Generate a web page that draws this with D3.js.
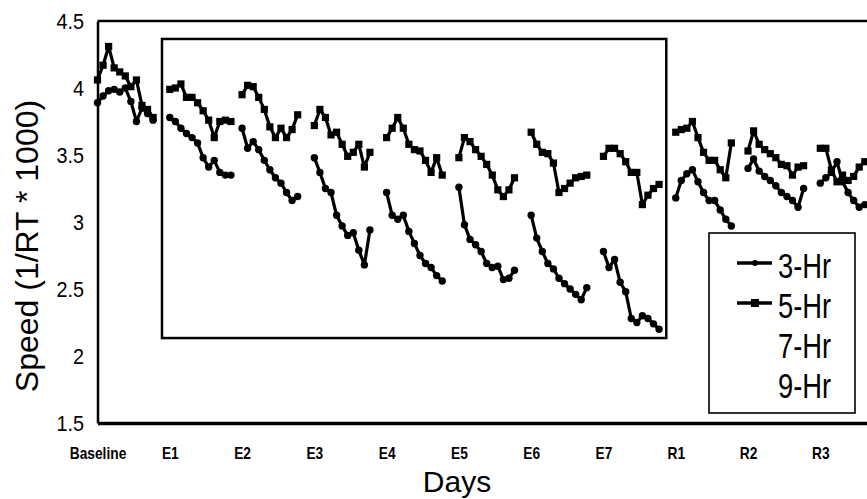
<!DOCTYPE html>
<html>
<head>
<meta charset="utf-8">
<script src="https://cdn.jsdelivr.net/npm/d3@7"></script>
<style>
body { margin: 0; background: #fff; }
text { font-family: "Liberation Sans", Arial, sans-serif; fill: #000; }
</style>
</head>
<body>
<div id="chart"></div>
<script>
var days = ["Baseline", "E1", "E2", "E3", "E4", "E5", "E6", "E7", "R1", "R2", "R3"];

// one list of test sessions per day
var hr3 = [
    [3.89, 3.94, 3.98, 3.99, 3.97, 4.00, 3.90, 3.75, 3.85, 3.81, 3.76],
    [3.78, 3.75, 3.70, 3.66, 3.63, 3.59, 3.48, 3.41, 3.46, 3.37, 3.35, 3.35],
    [3.70, 3.55, 3.60, 3.54, 3.46, 3.39, 3.33, 3.29, 3.22, 3.16, 3.19],
    [3.48, 3.37, 3.25, 3.22, 3.05, 2.97, 2.90, 2.92, 2.79, 2.68, 2.94],
    [3.22, 3.05, 3.02, 3.05, 2.93, 2.84, 2.75, 2.69, 2.66, 2.60, 2.56],
    [3.26, 2.98, 2.87, 2.83, 2.78, 2.69, 2.66, 2.67, 2.57, 2.58, 2.64],
    [3.05, 2.88, 2.78, 2.69, 2.65, 2.58, 2.54, 2.50, 2.46, 2.42, 2.51],
    [2.78, 2.66, 2.72, 2.55, 2.48, 2.28, 2.25, 2.30, 2.28, 2.24, 2.20],
    [3.18, 3.31, 3.36, 3.39, 3.30, 3.22, 3.16, 3.16, 3.09, 3.02, 2.97],
    [3.40, 3.47, 3.38, 3.34, 3.31, 3.27, 3.22, 3.19, 3.16, 3.11, 3.25],
    [3.29, 3.33, 3.37, 3.45, 3.30, 3.22, 3.16, 3.11, 3.13]
];

var hr5 = [
    [4.06, 4.17, 4.31, 4.15, 4.12, 4.09, 4.01, 4.06, 3.87, 3.84, 3.78],
    [3.99, 4.00, 4.03, 3.93, 3.93, 3.89, 3.83, 3.76, 3.63, 3.75, 3.76, 3.75],
    [3.95, 4.02, 4.01, 3.93, 3.84, 3.71, 3.63, 3.70, 3.63, 3.69, 3.80],
    [3.72, 3.84, 3.78, 3.65, 3.67, 3.58, 3.49, 3.52, 3.58, 3.41, 3.52],
    [3.63, 3.70, 3.78, 3.70, 3.58, 3.54, 3.53, 3.46, 3.37, 3.48, 3.35],
    [3.48, 3.63, 3.60, 3.54, 3.49, 3.43, 3.35, 3.24, 3.19, 3.24, 3.33],
    [3.67, 3.58, 3.52, 3.51, 3.44, 3.22, 3.25, 3.29, 3.33, 3.34, 3.35],
    [3.49, 3.55, 3.55, 3.51, 3.45, 3.37, 3.37, 3.13, 3.20, 3.25, 3.28],
    [3.67, 3.69, 3.70, 3.75, 3.63, 3.52, 3.46, 3.46, 3.39, 3.33, 3.59],
    [3.53, 3.68, 3.58, 3.54, 3.51, 3.48, 3.43, 3.42, 3.35, 3.41, 3.42],
    [3.55, 3.55, 3.39, 3.30, 3.35, 3.31, 3.34, 3.41, 3.45]
];

var yTicks = [1.5, 2, 2.5, 3, 3.5, 4, 4.5];
var legendNames = ["3-Hr", "5-Hr", "7-Hr", "9-Hr"];

// inner frame round the restriction days (session index, speed)
var frameX = [11.6, 102.3];
var frameY = [2.134, 4.366];

function base(){
    var w = 867;
    var h = 499;
    var slots = 13;   // test slots per day incl. gap

    var x = d3.scaleLinear()
        .domain([0, days.length * slots])
        .range([97.5, 97.5 + days.length * slots * 5.56]);
    var y = d3.scaleLinear()
        .domain([1.5, 4.5])
        .range([423, 21]);

    var svg = d3.select("#chart")
        .append("svg")
        .attr("width", w)
        .attr("height", h);

    // top edge of plot frame
    svg.append("line")
        .attr("x1", x(0)).attr("x2", w)
        .attr("y1", y(4.5)).attr("y2", y(4.5))
        .attr("stroke", "#000").attr("stroke-width", 2.5);

    // axes
    var yAxis = svg.append("g")
        .attr("transform", "translate(" + x(0) + ",0)")
        .call(d3.axisLeft(y).tickValues(yTicks).tickSize(0).tickSizeOuter(0)
            .tickPadding(15).tickFormat(d3.format("~g")));
    yAxis.select(".domain").attr("stroke-width", 2.5);
    yAxis.selectAll("text")
        .attr("font-size", "22px")
        .attr("transform", "scale(0.9,1)")
        .style("font-family", "'Liberation Sans', Arial, sans-serif");

    var xAxis = svg.append("g")
        .attr("transform", "translate(0," + y(1.5) + ")")
        .call(d3.axisBottom(x)
            .tickValues(days.map(function(d, i){ return i * slots; }))
            .tickFormat(function(d, i){ return days[i]; })
            .tickSize(0).tickSizeOuter(0));
    xAxis.select(".domain").attr("stroke-width", 3.5);
    xAxis.selectAll("text")
        .attr("y", 36).attr("dy", null)
        .attr("font-size", "16px")
        .attr("font-weight", "bold")
        .attr("transform", "scale(0.86,1)")
        .style("font-family", "'Liberation Sans', Arial, sans-serif");

    // inner frame
    svg.append("rect")
        .attr("x", x(frameX[0]))
        .attr("y", y(frameY[1]))
        .attr("width", x(frameX[1]) - x(frameX[0]))
        .attr("height", y(frameY[0]) - y(frameY[1]))
        .attr("fill", "none")
        .attr("stroke", "#000")
        .attr("stroke-width", 2.5);

    var line = d3.line()
        .x(function(d){ return x(d.i); })
        .y(function(d){ return y(d.v); });

    function sessions(series){
        return series.map(function(day, d){
            return day.map(function(v, j){ return {i: d * slots + j, v: v}; });
        });
    }

    var s3 = sessions(hr3);
    var s5 = sessions(hr5);

    [s3, s5].forEach(function(s){
        svg.append("g").selectAll("path")
            .data(s)
            .enter()
            .append("path")
            .attr("d", line)
            .attr("fill", "none")
            .attr("stroke", "#000")
            .attr("stroke-width", 3.2)
            .attr("stroke-linejoin", "round");
    });

    // 3-Hr: round dots
    svg.append("g").selectAll("circle")
        .data(d3.merge(s3))
        .enter()
        .append("circle")
        .attr("cx", function(d){ return x(d.i); })
        .attr("cy", function(d){ return y(d.v); })
        .attr("r", 3.7)
        .attr("fill", "#000");

    // 5-Hr: squares
    svg.append("g").selectAll("rect")
        .data(d3.merge(s5))
        .enter()
        .append("rect")
        .attr("x", function(d){ return x(d.i) - 3.6; })
        .attr("y", function(d){ return y(d.v) - 3.6; })
        .attr("width", 7.2)
        .attr("height", 7.2)
        .attr("fill", "#000");

    // axis titles
    svg.append("text")
        .attr("transform", "translate(38,246) rotate(-90)")
        .attr("text-anchor", "middle")
        .attr("font-size", "32px")
        .text("Speed (1/RT * 1000)");

    svg.append("text")
        .attr("x", 457)
        .attr("y", 492)
        .attr("text-anchor", "middle")
        .attr("font-size", "30px")
        .text("Days");

    // legend
    var lg = svg.append("g").attr("transform", "translate(709,233)");
    lg.append("rect")
        .attr("width", 146).attr("height", 180)
        .attr("fill", "#fff")
        .attr("stroke", "#000").attr("stroke-width", 1.6);

    var items = lg.selectAll("g.item")
        .data(legendNames)
        .enter()
        .append("g")
        .attr("class", "item")
        .attr("transform", function(d, i){ return "translate(0," + (45 + i * 40) + ")"; });

    items.filter(function(d, i){ return i < 2; })
        .append("line")
        .attr("x1", 28).attr("x2", 63)
        .attr("y1", -15).attr("y2", -15)
        .attr("stroke", "#000").attr("stroke-width", 3.5);
    items.filter(function(d, i){ return i === 0; })
        .append("circle")
        .attr("cx", 46).attr("cy", -15).attr("r", 3).attr("fill", "#000");
    items.filter(function(d, i){ return i === 1; })
        .append("rect")
        .attr("x", 42).attr("y", -19).attr("width", 8).attr("height", 8).attr("fill", "#000");

    items.append("text")
        .attr("transform", "translate(69,0) scale(0.76,1)")
        .attr("font-size", "36px")
        .text(function(d){ return d; });
}

window.onload = base;
</script>
</body>
</html>
